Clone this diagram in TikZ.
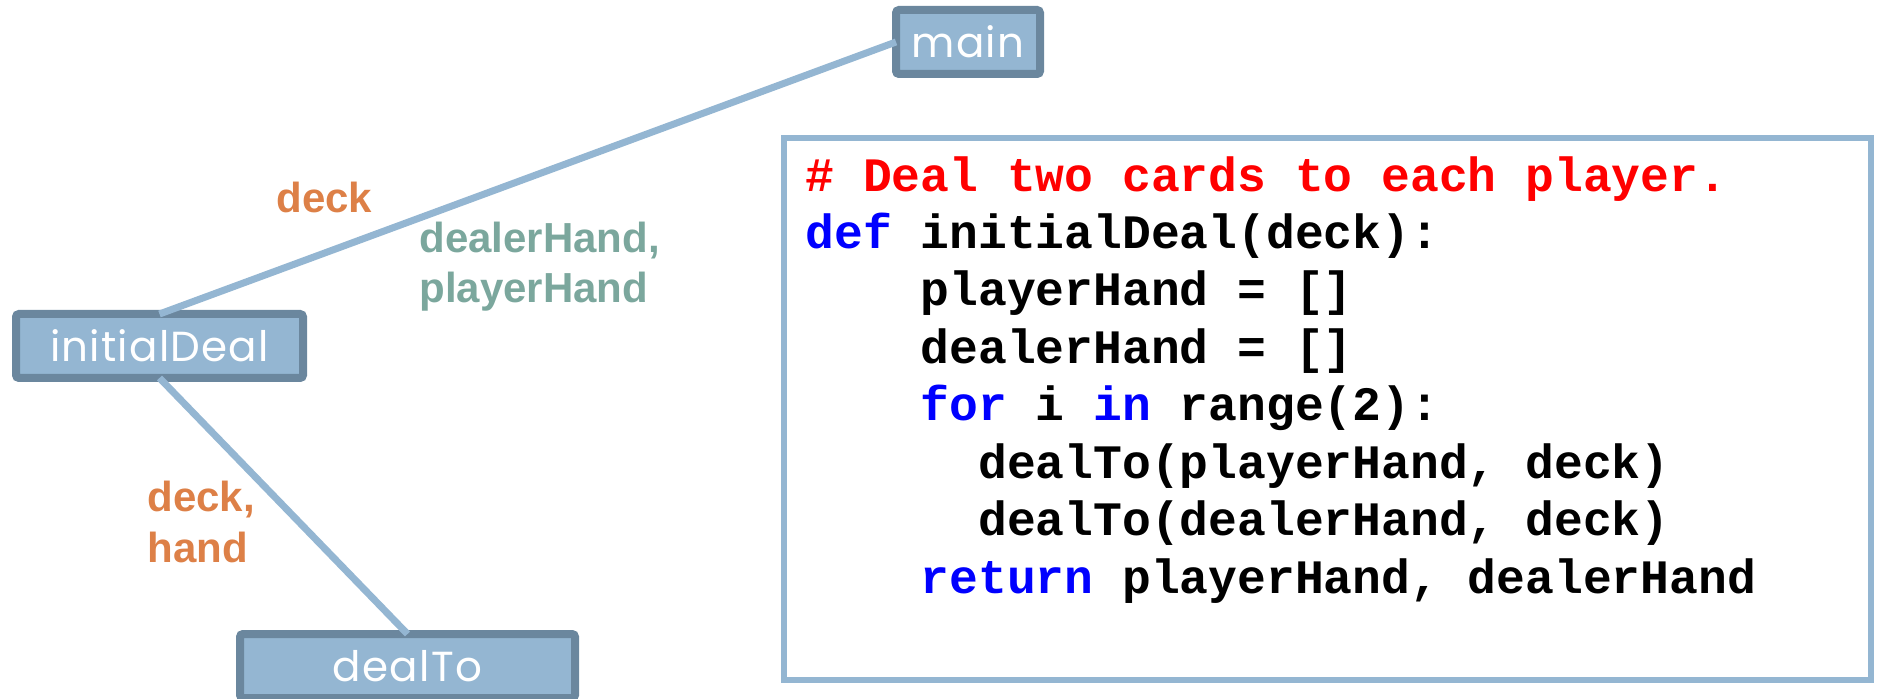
\documentclass[tikz,border=0pt]{standalone}
\usepackage{fontspec}
\newfontfamily\boxfont[LetterSpace=3]{Poppins}
\newfontfamily\labelfont{Liberation Sans}
\newfontfamily\codefont{Liberation Mono}

\definecolor{fnfill}{HTML}{94B6D2}
\definecolor{fnedge}{HTML}{6B879E}
\definecolor{argcol}{HTML}{DD8047}
\definecolor{retcol}{HTML}{7BA79D}
\definecolor{kwblue}{HTML}{0000FF}
\definecolor{cmtred}{HTML}{FF0000}

\tikzset{
  fn/.style={draw=fnedge, fill=fnfill, line width=4pt, rounded corners=1.5pt,
    minimum height=32pt, inner sep=0pt, outer sep=0pt, text=white,
    font=\boxfont\fontsize{21}{25}\selectfont},
  call/.style={draw=fnfill, line width=3.5pt},
  arg/.style={text=argcol, font=\labelfont\bfseries\fontsize{21}{25}\selectfont,
    align=left, inner sep=0pt},
  ret/.style={arg, text=retcol},
  listing/.style={draw=fnfill, line width=3pt},
  code/.style={font=\codefont\bfseries\fontsize{24}{28.7}\selectfont,
    align=left, inner sep=0pt}
}
\newcommand{\kw}[1]{\textcolor{kwblue}{#1}}

\begin{document}
\begin{tikzpicture}[x=0.5pt, y=-0.5pt]
  \useasboundingbox (0,0) rectangle (1878,699);

  % functions
  \node[fn, minimum width=72pt] (main) at (968,42) {main};
  \node[fn, minimum width=143.5pt] (initialDeal) at (159.5,346) {initialDeal};
  \node[fn, minimum width=167.5pt] (dealTo) at (407.5,666) {dealTo};

  % calls
  \draw[call] (initialDeal.north) -- (main.west);
  \draw[call] (initialDeal.south) -- (dealTo.north);

  % parameters and results (anchored on the last line)
  \node[arg, anchor=base west] (deckIn) at (276,213) {deck};
  \node[ret, anchor=base west] (handsOut) at (419,303) {dealerHand,\\playerHand};
  \node[arg, anchor=base west] (dealIn) at (147,562) {deck,\\hand};

  % code
  \draw[listing] (784,138) rectangle (1871,680);
  \node[code, anchor=base west] (src) at (805,593) {%
    \textcolor{cmtred}{\# Deal two cards to each player.}\\
    \kw{def} initialDeal(deck):\\
    ~~~~playerHand = []\\
    ~~~~dealerHand = []\\
    ~~~~\kw{for} i \kw{in} range(2):\\
    ~~~~~~dealTo(playerHand, deck)\\
    ~~~~~~dealTo(dealerHand, deck)\\
    ~~~~\kw{return} playerHand, dealerHand};

\end{tikzpicture}
\end{document}
